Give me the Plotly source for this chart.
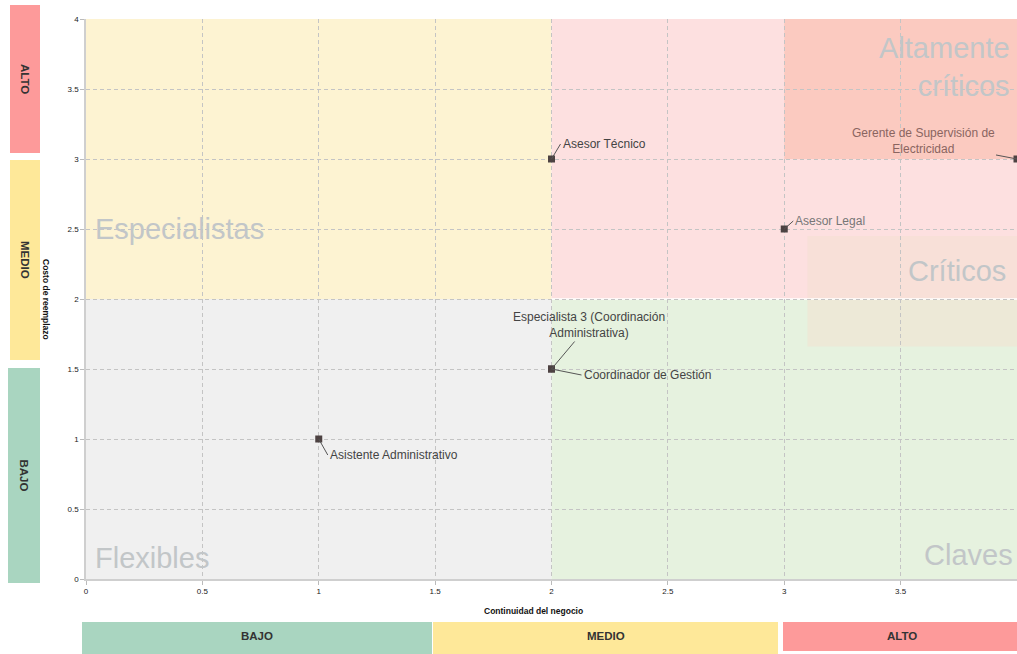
import plotly.graph_objects as go

# ---- data ----
puestos = ["Asesor Técnico", "Asesor Legal", "Gerente de Supervisión de<br>Electricidad",
           "Especialista 3 (Coordinación<br>Administrativa)", "Coordinador de Gestión",
           "Asistente Administrativo"]
continuidad = [2, 3, 4, 2, 2, 1]
costo = [3, 2.5, 3, 1.5, 1.5, 1]

cuadrantes = ["Especialistas", "Altamente<br>críticos", "Críticos", "Flexibles", "Claves"]
niveles = ["BAJO", "MEDIO", "ALTO"]
ticks = [0, 0.5, 1, 1.5, 2, 2.5, 3, 3.5, 4]
tick_text = ["0", "0.5", "1", "1.5", "2", "2.5", "3", "3.5", "4"]

# ---- geometry helpers (pixel -> paper) ----
W, H = 1017, 654
L, R, T, B = 86, 1017, 19, 579
def px(x):
    return (x - L) / (R - L)
def py(y):
    return (B - y) / (B - T)

fig = go.Figure()
fig.add_trace(go.Scatter(
    x=continuidad, y=costo, mode="markers",
    marker=dict(symbol="square", size=7, color="#4d4242"),
    hoverinfo="skip", showlegend=False, cliponaxis=True))

shapes = []
def rect(x0, y0, x1, y1, color, **kw):
    d = dict(type="rect", x0=x0, y0=y0, x1=x1, y1=y1, fillcolor=color,
             line=dict(width=0), layer="below")
    d.update(kw)
    shapes.append(d)

# quadrant backgrounds (data coords)
rect(0, 2, 2, 4, "#fdf3d2")
rect(2, 2, 4, 4, "#fde0e0")
rect(3, 3, 4, 4, "#fbcac0")
rect(0, 0, 2, 2, "#f0f0f0")
rect(2, 0, 4, 2, "#e6f2df")
rect(3.1, 1.66, 4, 2.45, "rgba(244,224,208,0.5)")
shapes.append(dict(type="line", x0=2, x1=4, y0=2, y1=2, line=dict(color="white", width=1.5), layer="below"))

# side bars (paper coords)
side = [("ALTO", 10, 5, 40, 153, "#fd9a9a"),
        ("MEDIO", 10, 160, 40, 360, "#fee899"),
        ("BAJO", 8, 368, 40, 583, "#a9d5c0")]
bottom = [("BAJO", 82, 622, 432, 660, "#a9d5c0"),
          ("MEDIO", 433, 622, 778, 660, "#fee899"),
          ("ALTO", 783, 622, 1020, 651, "#fd9a9a")]
bar_font = dict(size=11.5, color="#333", family="Liberation Sans, Arial")
annotations = []
for name, x0, y0, x1, y1, c in side:
    shapes.append(dict(type="rect", xref="paper", yref="paper", x0=px(x0), x1=px(x1),
                       y0=py(y1), y1=py(y0), fillcolor=c, line=dict(width=0), layer="below"))
    annotations.append(dict(xref="paper", yref="paper", x=px((x0 + x1) / 2), y=py((y0 + y1) / 2),
                            xanchor="center", yanchor="middle",
                            text="<b>%s</b>" % name, textangle=90, showarrow=False, font=bar_font))
for name, x0, y0, x1, y1, c in bottom:
    shapes.append(dict(type="rect", xref="paper", yref="paper", x0=px(x0), x1=px(x1),
                       y0=py(y1), y1=py(y0), fillcolor=c, line=dict(width=0), layer="below"))
    annotations.append(dict(xref="paper", yref="paper", x=px((x0 + x1) / 2), y=py(636),
                            xanchor="center", yanchor="middle",
                            text="<b>%s</b>" % name, showarrow=False, font=bar_font))

# axis titles
annotations.append(dict(xref="paper", yref="paper", x=px(46), y=py(299), text="<b>Costo de reemplazo</b>",
                        xanchor="center", yanchor="middle",
                        textangle=90, showarrow=False, font=dict(size=8.5, color="#111")))
annotations.append(dict(xref="paper", yref="paper", x=px(533), y=py(611), text="<b>Continuidad del negocio</b>",
                        xanchor="center", yanchor="middle",
                        showarrow=False, font=dict(size=8.5, color="#111")))

# quadrant labels
qf = dict(size=29, color="#c2c6c8", family="Liberation Sans, Arial")
annotations.append(dict(x=0.03, y=2.5, text=cuadrantes[0], showarrow=False, xanchor="left", yanchor="middle", font=qf))
annotations.append(dict(x=3.98, y=3.66, text=cuadrantes[1], showarrow=False, xanchor="right", yanchor="middle",
                        align="right", font=qf))
annotations.append(dict(x=3.96, y=2.2, text=cuadrantes[2], showarrow=False, xanchor="right", yanchor="middle", font=qf))
annotations.append(dict(x=0.03, y=0.15, text=cuadrantes[3], showarrow=False, xanchor="left", yanchor="middle", font=qf))
annotations.append(dict(x=3.99, y=0.17, text=cuadrantes[4], showarrow=False, xanchor="right", yanchor="middle", font=qf))

# point labels
lf = dict(size=12, color="#444", family="Liberation Sans, Arial")
offsets = [(9, -15, "left", "#444"), (9, -8, "left", "#777"), (-94, -18, "center", "#8a6560"),
           (37, -44, "center", "#444"), (30, 6, "left", "#444"), (9, 16, "left", "#444")]
for name, xv, yv, (ax, ay, xa, col) in zip(puestos, continuidad, costo, offsets):
    f = dict(lf); f["color"] = col
    annotations.append(dict(x=xv, y=yv, text=name, showarrow=True, arrowhead=0, arrowwidth=1,
                            arrowcolor="#555", ax=ax, ay=ay, xanchor=xa, yanchor="middle",
                            align="center", font=f, standoff=0))

axis_common = dict(tickvals=ticks, ticktext=tick_text, showgrid=True, gridcolor="#c4c4c4",
                   griddash="4px,3px", gridwidth=1, zeroline=False, showline=True, linecolor="#cfcfcf",
                   linewidth=1.5, ticks="outside", ticklen=4, tickcolor="#bbb",
                   tickfont=dict(size=8, color="#222", family="Liberation Sans, Arial"))
fig.update_layout(
    width=W, height=H, margin=dict(l=L, r=W - R, t=T, b=H - B),
    paper_bgcolor="white", plot_bgcolor="white",
    xaxis=dict(range=[0, 4], **axis_common),
    yaxis=dict(range=[0, 4], **axis_common),
    shapes=shapes, annotations=annotations, showlegend=False,
    font=dict(family="Liberation Sans, Arial"))
fig.write_html("out.html")
